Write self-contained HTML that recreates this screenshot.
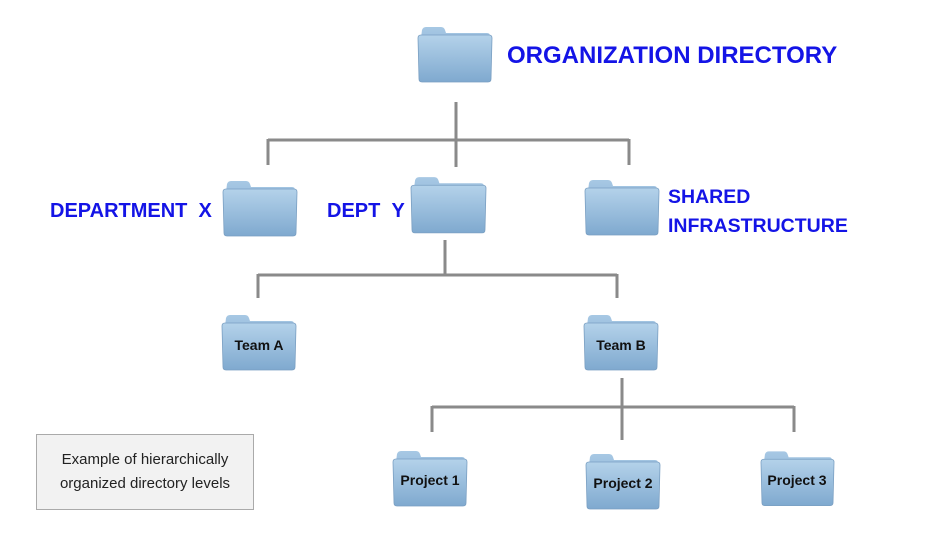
<!DOCTYPE html>
<html><head><meta charset="utf-8"><style>
body{margin:0;background:#fff;width:945px;height:533px;overflow:hidden;position:relative;font-family:"Liberation Sans",Arial,sans-serif}
.t{position:absolute;color:#1414e6;font-weight:bold;font-size:20px;white-space:nowrap}
.note{position:absolute;left:36px;top:434px;width:218px;height:76px;background:#f2f2f2;border:1px solid #aaa;box-sizing:border-box;font-size:15px;color:#222;text-align:center;line-height:24px;padding-top:13px}
</style></head><body>
<svg width="945" height="533" style="position:absolute;left:0;top:0">
<defs>
<linearGradient id="g" x1="0" y1="0" x2="0" y2="1">
<stop offset="0" stop-color="#b4d2ea"/><stop offset="1" stop-color="#7fa9cf"/></linearGradient>
<linearGradient id="g2" x1="0" y1="0" x2="0" y2="1">
<stop offset="0" stop-color="#a7c8e4"/><stop offset="1" stop-color="#9dc0df"/></linearGradient>
<symbol id="f" viewBox="0 0 76 57">
<path d="M4 12 L5 4 Q6 1 9 1 L24 1 Q27 1 28 4 L29 7 L70 7 Q73 7 73 10 L73 13 Z" fill="url(#g2)"/>
<path d="M1 12 Q1 9 4 9 L72 9 Q75 9 75 12 L74 53 Q74 56 71 56 L5 56 Q2 56 2 53 Z" fill="url(#g)" stroke="#7a9fc2" stroke-width="0.8"/>
</symbol>
</defs>
<g stroke="#8a8a8a" stroke-width="3" fill="none">
<path d="M456 102V167M268 140H629M268 139V165M629 139V165"/>
<path d="M445 240V275M258 275H617M258 274V298M617 274V298"/>
<path d="M622 378V440M432 407H794M432 406V432M794 406V432"/>
</g>
<use href="#f" x="417" y="26" width="76" height="57"/>
<use href="#f" x="222" y="180" width="76" height="57"/>
<use href="#f" x="410" y="176" width="77" height="58"/>
<use href="#f" x="584" y="179" width="76" height="57"/>
<use href="#f" x="221" y="314" width="76" height="57"/>
<use href="#f" x="583" y="314" width="76" height="57"/>
<use href="#f" x="392" y="450" width="76" height="57"/>
<use href="#f" x="585" y="453" width="76" height="57"/>
<use href="#f" x="760" y="450" width="75" height="57"/>
<g font-family="Liberation Sans,Arial,sans-serif" font-weight="bold" font-size="14" fill="#111" text-anchor="middle">
<text x="259" y="350">Team A</text>
<text x="621" y="350">Team B</text>
<text x="430" y="485">Project 1</text>
<text x="623" y="488">Project 2</text>
<text x="797" y="485">Project 3</text>
</g>
</svg>
<div class="t" style="left:507px;top:42px;font-size:24px">ORGANIZATION DIRECTORY</div>
<div class="t" style="left:50px;top:200px">DEPARTMENT &nbsp;X</div>
<div class="t" style="left:327px;top:200px">DEPT &nbsp;Y</div>
<div class="t" style="left:668px;top:183px;line-height:29px;font-size:19.5px">SHARED<br>INFRASTRUCTURE</div>
<div class="note">Example of hierarchically<br>organized directory levels</div>
</body></html>
